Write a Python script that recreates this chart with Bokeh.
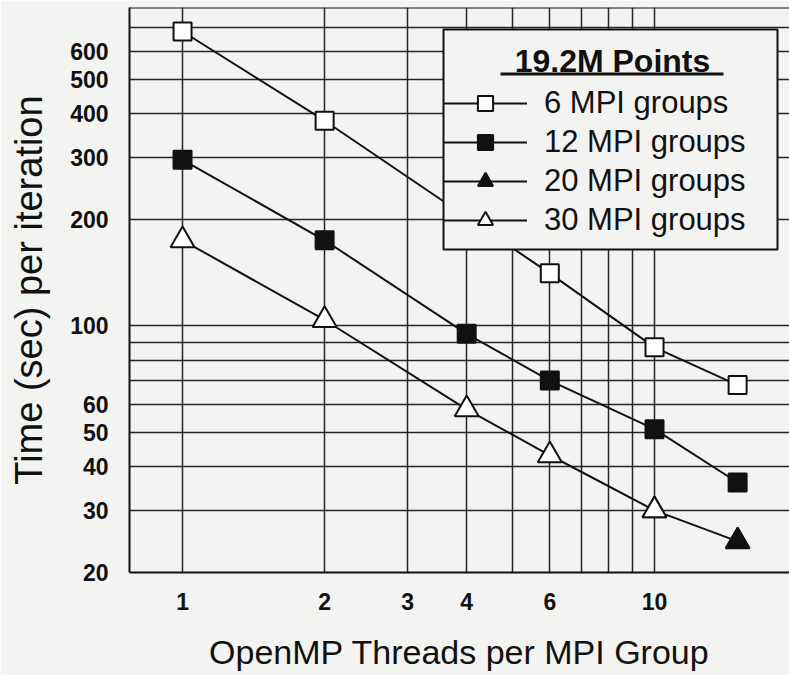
from bokeh.plotting import figure
from bokeh.models import (FixedTicker, PrintfTickFormatter, Legend, LegendItem,
                          Label, BoxAnnotation, Span)
from bokeh.embed import file_html
from bokeh.resources import INLINE

# ---- data ----
threads_6 = [1, 2, 6, 10, 15]
time_6 = [684, 382, 141, 87, 68]

threads_12 = [1, 2, 4, 6, 10, 15]
time_12 = [296, 175, 95, 70, 51, 36]

threads_20 = [10, 15]
time_20 = [30, 24.5]

threads_30 = [1, 2, 4, 6, 10]
time_30 = [175, 104, 58, 43, 30]

x_major_ticks = [1, 2, 3, 4, 6, 10]
x_minor_ticks = [5, 7, 8, 9]
y_major_ticks = [20, 30, 40, 50, 60, 100, 200, 300, 400, 500, 600]
y_minor_ticks = [70, 80, 90, 700]

x_title = "OpenMP Threads per MPI Group"
y_title = "Time (sec) per iteration"
legend_title = "19.2M Points"
series_labels = ["6 MPI groups", "12 MPI groups", "20 MPI groups", "30 MPI groups"]

BG = "#f3f3f2"
INK = "#111111"
FONT = "Liberation Sans"

y_lo, y_hi = 20, 800
p = figure(width=789, height=675, x_axis_type="log", y_axis_type="log",
           x_range=(0.772, 19.32), y_range=(y_lo, y_hi),
           output_backend="svg", toolbar_location=None,
           min_border=0,
           min_border_left=129, min_border_right=0, min_border_top=7,
           min_border_bottom=103,
           background_fill_color=BG, border_fill_color=BG)
p.outline_line_color = None

# axes
p.xaxis.ticker = FixedTicker(ticks=x_major_ticks, minor_ticks=x_minor_ticks)
p.yaxis.ticker = FixedTicker(ticks=y_major_ticks, minor_ticks=y_minor_ticks)
for ax in (p.xaxis, p.yaxis):
    ax.formatter = PrintfTickFormatter(format="%d")
    ax.major_tick_line_color = None
    ax.minor_tick_line_color = None
    ax.axis_line_color = INK
    ax.axis_line_width = 2
    ax.major_label_text_font = FONT
    ax.major_label_text_font_style = "bold"
    ax.major_label_text_font_size = "23px"
    ax.major_label_text_color = INK
    ax.axis_label_text_font = FONT
    ax.axis_label_text_font_style = "normal"
    ax.axis_label_text_color = INK

p.xaxis.axis_label = x_title
p.xaxis.axis_label_text_font_size = "34px"
p.xaxis.major_label_standoff = 14
p.xaxis.axis_label_standoff = 20

p.yaxis.axis_label = y_title
p.yaxis.axis_label_text_font_size = "38px"
p.yaxis.major_label_standoff = 15
p.yaxis.axis_label_standoff = 17

# grid
for g in (p.xgrid, p.ygrid):
    g.grid_line_color = INK
    g.grid_line_width = 1.5
    g.grid_line_alpha = 0.9
    g.minor_grid_line_color = INK
    g.minor_grid_line_width = 1.5
    g.minor_grid_line_alpha = 0.9

# top frame edge
p.add_layout(Span(location=y_hi, dimension="width", line_color=INK, line_width=2))

# series
l6 = p.line(threads_6, time_6, line_color=INK, line_width=2)
s6 = p.scatter(threads_6, time_6, marker="square", size=18, fill_color="white",
               line_color=INK, line_width=2)

l12 = p.line(threads_12, time_12, line_color=INK, line_width=2)
s12 = p.scatter(threads_12, time_12, marker="square", size=18, fill_color=INK,
                line_color=INK, line_width=2)

l20 = p.line(threads_20, time_20, line_color=INK, line_width=2)
s20 = p.scatter(threads_20, time_20, marker="triangle", size=24, fill_color=INK,
                line_color=INK, line_width=2)

l30 = p.line(threads_30, time_30, line_color=INK, line_width=2)
s30 = p.scatter(threads_30, time_30, marker="triangle", size=24, fill_color="white",
                line_color=INK, line_width=2)

# opaque legend panel (frame-relative screen units)
p.add_layout(BoxAnnotation(left=314, right=648, bottom=323, top=543,
                           left_units="screen", right_units="screen",
                           bottom_units="screen", top_units="screen",
                           fill_color=BG, fill_alpha=1,
                           line_color=INK, line_width=2, line_alpha=1))

legend = Legend(items=[
    LegendItem(label=series_labels[0], renderers=[l6, s6]),
    LegendItem(label=series_labels[1], renderers=[l12, s12]),
    LegendItem(label=series_labels[2], renderers=[l20, s20]),
    LegendItem(label=series_labels[3], renderers=[l30, s30]),
], location=(314, 333))
legend.background_fill_alpha = 0
legend.border_line_color = None
legend.padding = 13
legend.spacing = 1
legend.margin = 0
legend.glyph_width = 84
legend.glyph_height = 38
legend.label_height = 38
legend.label_standoff = 17
legend.label_text_font = FONT
legend.label_text_font_size = "31px"
legend.label_text_color = INK
p.add_layout(legend, "center")

# legend heading with underline
p.add_layout(Label(x=483, y=512, x_units="screen", y_units="screen",
                   text=legend_title, text_font=FONT, text_font_size="32px",
                   text_font_style="bold", text_color=INK,
                   text_align="center", text_baseline="alphabetic"))
p.add_layout(BoxAnnotation(left=371, right=594, bottom=497, top=500,
                           left_units="screen", right_units="screen",
                           bottom_units="screen", top_units="screen",
                           fill_color=INK, fill_alpha=1, line_color=None))

open("out.html", "w").write(file_html(p, INLINE))
